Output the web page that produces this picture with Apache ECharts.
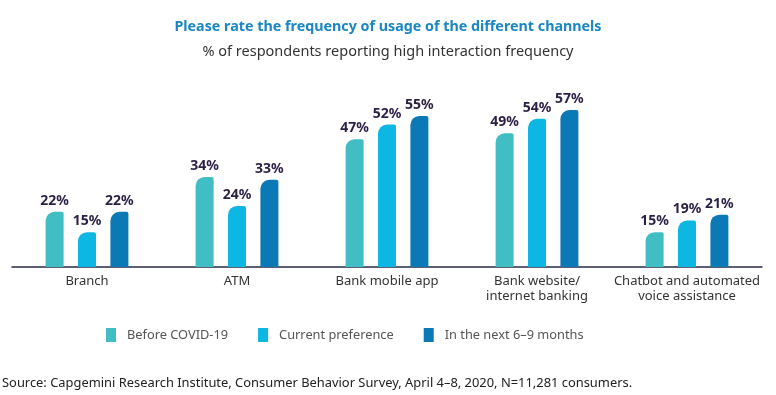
<!DOCTYPE html>
<html><head><meta charset="utf-8">
<script src="https://cdn.jsdelivr.net/npm/echarts@6/dist/echarts.min.js"></script>
<style>html,body{margin:0;padding:0;background:#fff}#c{width:776px;height:395px}</style>
</head><body><div id="c"></div>
<script>
const categories = ["Branch", "ATM", "Bank mobile app", "Bank website/\ninternet banking", "Chatbot and automated\nvoice assistance"];
const seriesNames = ["Before COVID-19", "Current preference", "In the next 6\u20139 months"];
const beforeCovid = [22, 34, 47, 49, 15];
const currentPref = [15, 24, 52, 54, 19];
const next69 = [22, 33, 55, 57, 21];
const colors = ["#40bec4", "#0db7e4", "#0b79b6"];

const FONT = "Noto Sans";
const chart = echarts.init(document.getElementById('c'), null, {renderer: 'canvas'});
function mk(name, data, color) {
  return {
    name: name, type: 'bar', data: data, barWidth: 18, barGap: '80%',
    itemStyle: {color: color, borderRadius: [9, 2, 0, 0]},
    label: {show: true, position: 'top', distance: 4, formatter: '{c}%',
      fontFamily: FONT, fontWeight: 'bold', fontSize: 14, color: '#2b1f45'}
  };
}
chart.setOption({
  animation: false,
  title: [
    {text: 'Please rate the frequency of usage of the different channels', left: 'center', top: 15,
      textStyle: {fontFamily: FONT, fontSize: 14.3, fontWeight: 'bold', color: '#1a86c4'}},
    {text: '% of respondents reporting high interaction frequency', left: 'center', top: 39,
      textStyle: {fontFamily: FONT, fontSize: 14.5, fontWeight: 'normal', color: '#333'}},
    {text: 'Source: Capgemini Research Institute, Consumer Behavior Survey, April 4\u20138, 2020, N=11,281 consumers.', left: -3, top: 372,
      textStyle: {fontFamily: FONT, fontSize: 12.9, fontWeight: 'normal', color: '#222'}}
  ],
  legend: {
    top: 323, left: 101, itemWidth: 10, itemHeight: 14, itemGap: 30, icon: 'rect',
    textStyle: {fontFamily: FONT, fontSize: 12.8, color: '#555', padding: [0, 0, 0, 6]},
    data: seriesNames
  },
  grid: {left: 12, right: 14, top: 81, bottom: 128},
  xAxis: {
    type: 'category', data: categories,
    axisLine: {lineStyle: {color: '#2a2a48', width: 1.5}},
    axisTick: {show: false},
    axisLabel: {fontFamily: FONT, fontSize: 13, color: '#333', lineHeight: 15, margin: 7, interval: 0}
  },
  yAxis: {type: 'value', min: 3, max: 67, show: false, splitLine: {show: false}},
  series: [mk(seriesNames[0], beforeCovid, colors[0]), mk(seriesNames[1], currentPref, colors[1]), mk(seriesNames[2], next69, colors[2])]
});
</script></body></html>
